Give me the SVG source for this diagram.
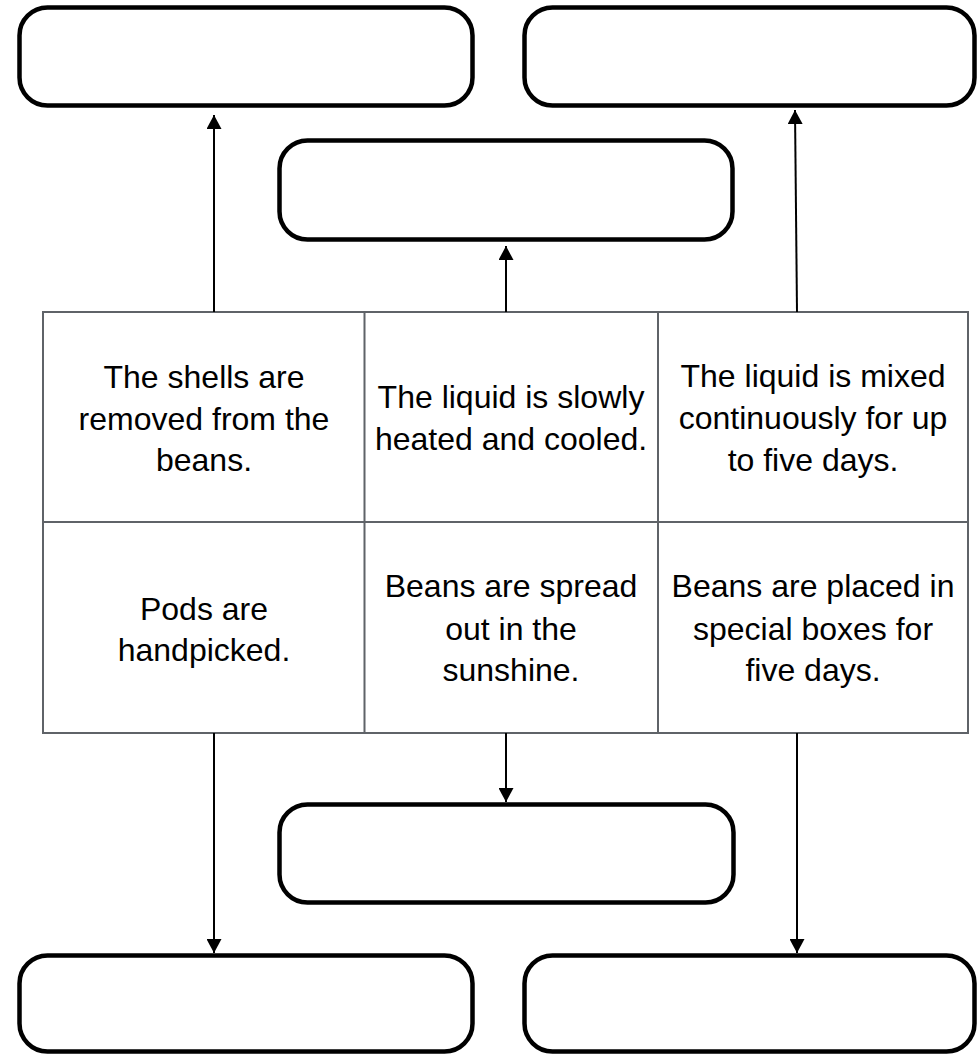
<svg xmlns="http://www.w3.org/2000/svg" width="978" height="1055" viewBox="0 0 978 1055">
  <style>
    .box { fill: #ffffff; stroke: #000000; stroke-width: 4.5; }
    .grid { fill: #ffffff; stroke: #5f6368; stroke-width: 2; }
    .link { fill: none; stroke: #000000; stroke-width: 2; marker-end: url(#arrow); }
    .label { font-family: "Liberation Sans", Arial, sans-serif; font-size: 32px; fill: #000000; text-anchor: middle; }
  </style>
  <defs>
    <marker id="arrow" markerUnits="userSpaceOnUse" markerWidth="15" markerHeight="15" refX="14" refY="7.5" orient="auto">
      <path d="M0,0 L14,7.5 L0,15 Z" fill="#000000"/>
    </marker>
  </defs>
  <rect width="978" height="1055" fill="#ffffff"/>

  <!-- empty answer boxes -->
  <g id="box-top-left"><rect class="box" x="19.5" y="7.5" width="453" height="98" rx="28"/></g>
  <g id="box-top-right"><rect class="box" x="524.5" y="7.5" width="450" height="98" rx="28"/></g>
  <g id="box-top-middle"><rect class="box" x="279.5" y="140.5" width="453" height="99" rx="28"/></g>
  <g id="box-bottom-middle"><rect class="box" x="279.5" y="804.5" width="454" height="98" rx="28"/></g>
  <g id="box-bottom-left"><rect class="box" x="19.5" y="955.5" width="453" height="96" rx="28"/></g>
  <g id="box-bottom-right"><rect class="box" x="524.5" y="955.5" width="450" height="96" rx="28"/></g>

  <!-- process table: two rows of three steps -->
  <g id="step-table">
    <rect class="grid" x="43" y="312" width="925" height="421"/>
    <line class="grid" x1="43" y1="522" x2="968" y2="522"/>
    <line class="grid" x1="364.5" y1="312" x2="364.5" y2="733"/>
    <line class="grid" x1="658" y1="312" x2="658" y2="733"/>
  </g>

  <g id="step-shells">
    <text class="label" x="204" y="388">The shells are</text>
    <text class="label" x="204" y="429.5">removed from the</text>
    <text class="label" x="204" y="471">beans.</text>
  </g>
  <g id="step-heated">
    <text class="label" x="511" y="408">The liquid is slowly</text>
    <text class="label" x="511" y="450">heated and cooled.</text>
  </g>
  <g id="step-mixed">
    <text class="label" x="813" y="387">The liquid is mixed</text>
    <text class="label" x="813" y="429">continuously for up</text>
    <text class="label" x="813" y="471">to five days.</text>
  </g>
  <g id="step-pods">
    <text class="label" x="204" y="620">Pods are</text>
    <text class="label" x="204" y="661">handpicked.</text>
  </g>
  <g id="step-spread">
    <text class="label" x="511" y="597">Beans are spread</text>
    <text class="label" x="511" y="640">out in the</text>
    <text class="label" x="511" y="681">sunshine.</text>
  </g>
  <g id="step-boxes">
    <text class="label" x="813" y="597">Beans are placed in</text>
    <text class="label" x="813" y="640">special boxes for</text>
    <text class="label" x="813" y="681">five days.</text>
  </g>

  <!-- connectors from the table to the boxes -->
  <g id="connectors">
    <line class="link" x1="214" y1="312" x2="214" y2="115"/>
    <line class="link" x1="506" y1="312" x2="506" y2="246"/>
    <line class="link" x1="797" y1="312" x2="795" y2="110"/>
    <line class="link" x1="214" y1="733" x2="214" y2="953"/>
    <line class="link" x1="506" y1="733" x2="506" y2="802"/>
    <line class="link" x1="797" y1="733" x2="797" y2="953"/>
  </g>
</svg>
